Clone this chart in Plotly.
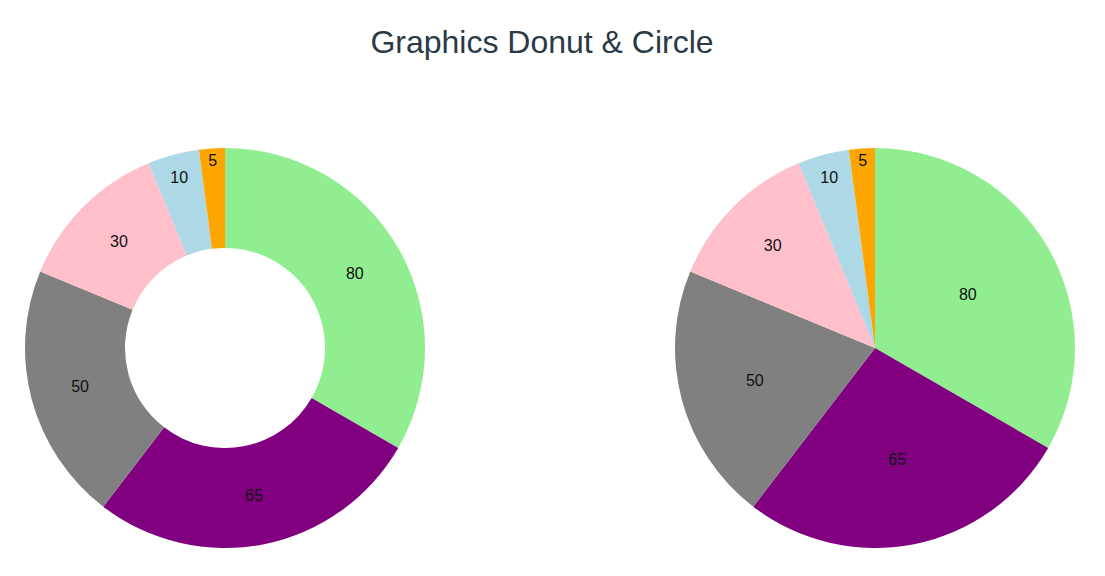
import plotly.graph_objects as go

labels = ["A", "B", "C", "D", "E", "F"]
values = [80, 65, 50, 30, 10, 5]
colors = ["lightgreen", "purple", "gray", "pink", "lightblue", "orange"]
title_text = "Graphics Donut & Circle"

W, H = 1105, 576
ml, mr, mt, mb = 17, 38, 140, 36
pw = W - ml - mr

fig = go.Figure()
common = dict(
    labels=labels, values=values, sort=False, direction="clockwise",
    marker=dict(colors=colors, line=dict(width=0)),
    textinfo="value", textposition="inside", insidetextorientation="horizontal",
    textfont=dict(color="#111111", size=16, family="Liberation Sans, Arial"),
    showlegend=False, rotation=0,
)
fig.add_trace(go.Pie(hole=0.5, domain=dict(x=[0, 400 / pw], y=[0, 1]), **common))
fig.add_trace(go.Pie(hole=0, domain=dict(x=[1 - 400 / pw, 1], y=[0, 1]), **common))

fig.update_layout(
    width=W, height=H,
    margin=dict(l=ml, r=mr, t=mt, b=mb),
    paper_bgcolor="white", plot_bgcolor="white",
    font=dict(family="Liberation Sans, Arial", color="#2a3a47"),
    title=dict(text=title_text, x=534 / W, xanchor="center",
               y=1 - 34 / H, yanchor="middle",
               font=dict(size=32, color="#2a3a47", family="Liberation Sans, Arial")),
)
fig.write_html("out.html")
